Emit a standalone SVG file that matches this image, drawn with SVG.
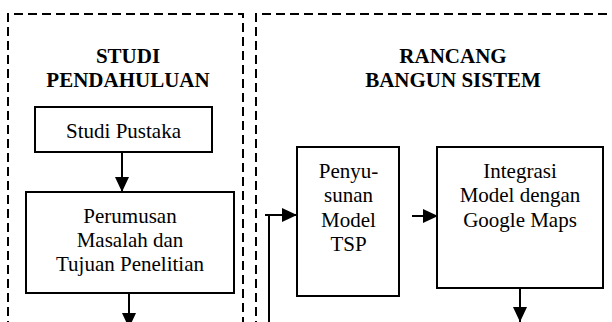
<svg xmlns="http://www.w3.org/2000/svg" width="612" height="322" viewBox="0 0 612 322">
<style>
.frame{fill:none;stroke:#000;stroke-width:2;stroke-dasharray:9 5}
.box{fill:#fff;stroke:#000;stroke-width:2}
.t{font-family:"Liberation Serif","Times New Roman",serif;font-size:21px;fill:#000;text-anchor:middle}
.h{font-family:"Liberation Serif","Times New Roman",serif;font-size:21px;font-weight:bold;fill:#000;text-anchor:middle}
.c{fill:none;stroke:#000;stroke-width:2}
</style>
<defs>
<marker id="ah" viewBox="0 0 15 14" refX="15" refY="7" markerWidth="15" markerHeight="14" markerUnits="userSpaceOnUse" orient="auto">
<path d="M0,0 L15,7 L0,14 Z" fill="#000"/>
</marker>
</defs>
<rect width="612" height="322" fill="#fff"/>
<g id="frame-studi">
<path class="frame" d="M8,330 L8,14 L243,14 L243,330"/>
<text class="h" x="128" y="63">STUDI</text>
<text class="h" x="128" y="87">PENDAHULUAN</text>
</g>
<g id="frame-rancang">
<path class="frame" d="M256,330 L256,14 L620,14"/>
<text class="h" x="453" y="63">RANCANG</text>
<text class="h" x="453" y="87">BANGUN SISTEM</text>
</g>
<g id="node-studi-pustaka">
<rect class="box" x="35" y="107" width="177" height="45"/>
<text class="t" x="123.5" y="138">Studi Pustaka</text>
</g>
<g id="node-perumusan">
<rect class="box" x="26" y="192" width="208" height="101"/>
<text class="t" x="130" y="223">Perumusan</text>
<text class="t" x="130" y="247">Masalah dan</text>
<text class="t" x="130" y="271">Tujuan Penelitian</text>
</g>
<g id="node-penyusunan">
<rect class="box" x="297" y="147" width="102" height="149"/>
<text class="t" x="348.5" y="178">Penyu-</text>
<text class="t" x="348.5" y="202">sunan</text>
<text class="t" x="348.5" y="227">Model</text>
<text class="t" x="348.5" y="251">TSP</text>
</g>
<g id="node-integrasi">
<rect class="box" x="437" y="147" width="166" height="141"/>
<text class="t" x="520" y="178">Integrasi</text>
<text class="t" x="520" y="202">Model dengan</text>
<text class="t" x="520" y="227">Google Maps</text>
</g>
<g id="connectors">
<path class="c" d="M122,152 L122,192" marker-end="url(#ah)"/>
<path class="c" d="M129,293 L129,328" marker-end="url(#ah)"/>
<path class="c" d="M269,330 L269,215"/>
<path class="c" d="M265,215 L297,215" marker-end="url(#ah)"/>
<path class="c" d="M412,216 L438,216" marker-end="url(#ah)"/>
<path class="c" d="M520,288 L520,322" marker-end="url(#ah)"/>
</g>
</svg>
